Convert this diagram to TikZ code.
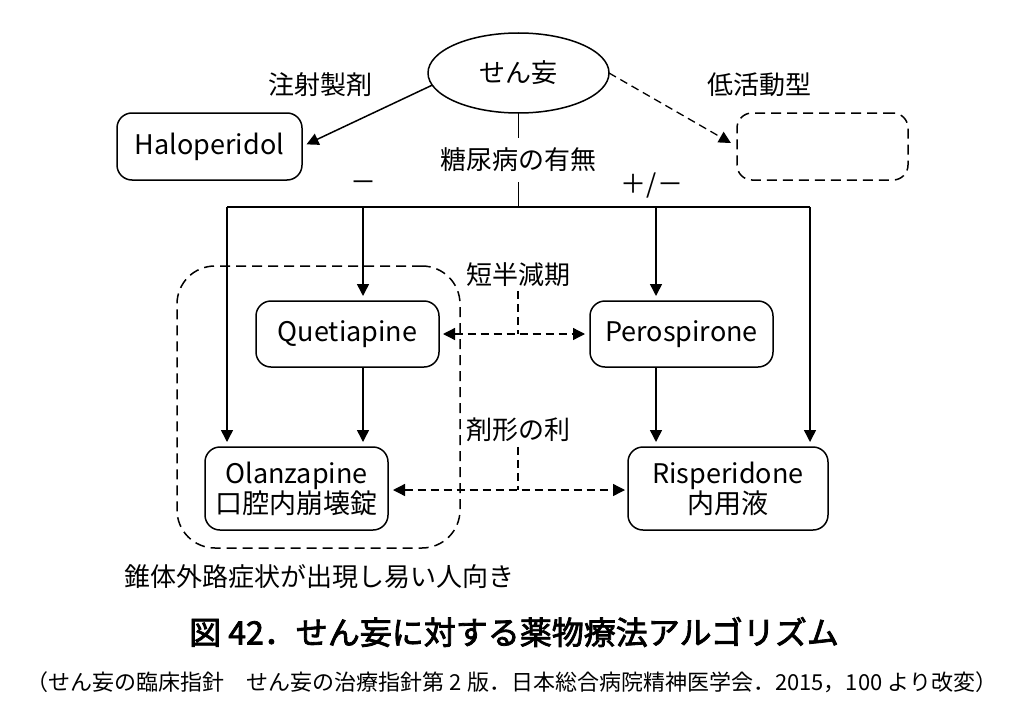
\documentclass[tikz,border=0pt]{standalone}
\usepackage{fontspec}
\setmainfont{Noto Sans CJK JP}
\newfontfamily\titlefont{Noto Sans CJK JP}[FakeBold=2.5]
\usetikzlibrary{arrows.meta,shapes.geometric}
\begin{document}
\begin{tikzpicture}[x=1pt,y=-1pt,
  every node/.style={inner sep=0pt, outer sep=0pt, font=\fontsize{26}{30}\selectfont},
  ln/.style={line width=1.5pt, draw=black},
  box/.style={ln, rounded corners=15pt, align=center, minimum width=183pt},
  dbox/.style={box, dash pattern=on 10pt off 6pt},
  dsh/.style={line width=1.3pt, dash pattern=on 8pt off 5pt},
  arr/.style={ln, -{Triangle[length=12pt,width=12pt]}},
  darr/.style={dsh, {Triangle[length=12pt,width=12pt]}-{Triangle[length=12pt,width=12pt]}},
  lat/.style={font=\fontsize{27}{30}\selectfont}
]
\useasboundingbox (0,0) rectangle (1024,717);
\fill[white] (0,0) rectangle (1024,717);

% group box
\node[dbox, rounded corners=38pt, minimum width=283pt, minimum height=282pt] (grp) at (318.5,407) {};

% top
\node[ellipse, ln, minimum width=181pt, minimum height=80pt] (del) at (518.5,73) {せん妄};
\node[box, lat, minimum width=185pt, minimum height=67pt] (halo) at (209.5,146.5) {Haloperidol};
\node[dbox, minimum width=171pt, minimum height=67pt] (hypo) at (822.5,146.5) {};
\node (inj) at (320,85) {注射製剤};
\node (low) at (759,85) {低活動型};
\node[minimum height=44pt] (dm) at (518.5,160) {糖尿病の有無};
\node (minus) at (363,186) {－};
\node (pm) at (652,186) {＋/－};

\draw[arr, shorten >=5pt] (del.188) -- (halo.east);
\draw[dsh, -{Triangle[length=12pt,width=12pt]}, shorten >=7pt] (del.east) -- (hypo.west);

% branches
\coordinate (hub) at (518.5,207);
\coordinate (bl) at (227,207);
\coordinate (bq) at (363,207);
\coordinate (bp) at (656,207);
\coordinate (br) at (810,207);
\draw[ln] (del.south) -- (dm.north);
\draw[ln] (dm.south) -- (hub);
\draw[ln] (bl) -- (br);

% drug boxes
\node[box, lat, minimum height=66pt] (quet) at (347.5,334) {Quetiapine};
\node[box, lat, minimum height=66pt] (pero) at (681.5,334) {Perospirone};
\node[box, lat, minimum height=83pt] (olan) at (296.5,488.5) {Olanzapine\\口腔内崩壊錠};
\node[box, lat, minimum width=200pt, minimum height=83pt] (risp) at (728,488.5) {Risperidone\\内用液};

\draw[arr, shorten >=5pt] (bl) -- (bl |- olan.north);
\draw[arr, shorten >=5pt] (bq) -- (bq |- quet.north);
\draw[arr, shorten >=5pt] (bp) -- (bp |- pero.north);
\draw[arr, shorten >=5pt] (br) -- (br |- risp.north);
\draw[arr, shorten >=5pt] (bq |- quet.south) -- (bq |- olan.north);
\draw[arr, shorten >=5pt] (bp |- pero.south) -- (bp |- risp.north);

% dashed comparisons
\node (half) at (518,275) {短半減期};
\node (form) at (518,430) {剤形の利};
\coordinate (hc) at (518,334);
\coordinate (fc) at (518,490);
\draw[darr, shorten <=4pt, shorten >=5pt] (quet.east) -- (pero.west);
\draw[dsh] (half.south) ++(0,4) -- (hc);
\draw[darr, shorten <=5pt, shorten >=3pt] (olan.east |- fc) -- (risp.west |- fc);
\draw[dsh] (form.south) ++(0,5) -- (fc);

% captions
\node (eps) at (319,577) {錐体外路症状が出現し易い人向き};
\node[font=\fontsize{32}{36}\titlefont] (title) at (514,632) {図 42．せん妄に対する薬物療法アルゴリズム};
\node[font=\fontsize{22}{26}\selectfont] (src) at (512,682) {（せん妄の臨床指針　せん妄の治療指針第 2 版．日本総合病院精神医学会．2015，100 より改変）};
\end{tikzpicture}
\end{document}
